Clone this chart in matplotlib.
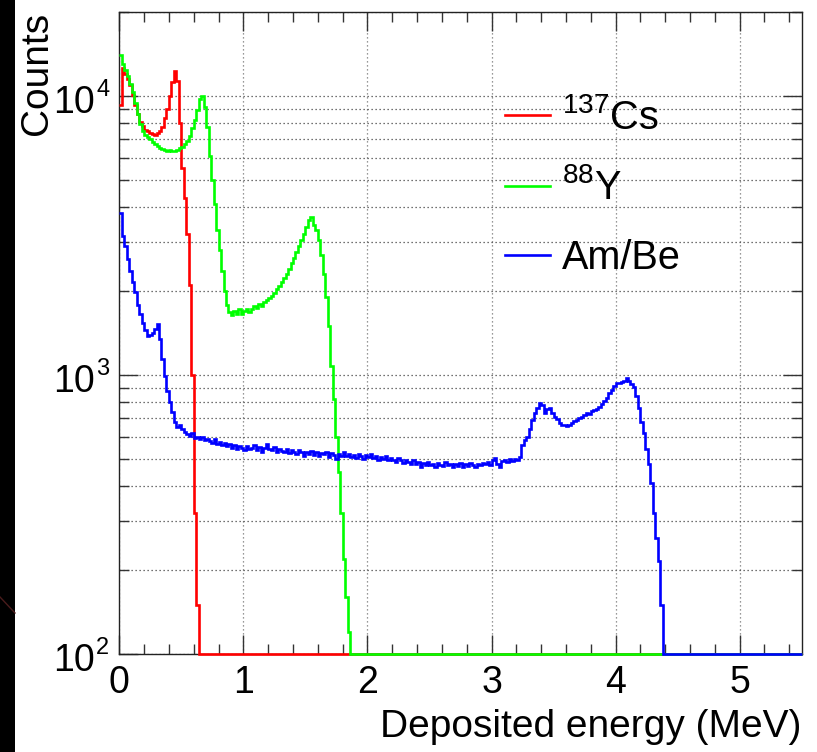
import numpy as np
import matplotlib
matplotlib.use("Agg")
import matplotlib.pyplot as plt
from matplotlib.lines import Line2D
from matplotlib.patches import Rectangle
from matplotlib.ticker import LogLocator, MultipleLocator, NullFormatter, FixedLocator

plt.rcParams['font.family'] = ['Liberation Sans', 'DejaVu Sans']
plt.rcParams['mathtext.fontset'] = 'custom'
plt.rcParams['mathtext.rm'] = 'Liberation Sans'
plt.rcParams['mathtext.it'] = 'Liberation Sans:italic'
plt.rcParams['mathtext.default'] = 'regular'

# ---------------- data (counts per 0.02 MeV bin, starting at 0 MeV) ----------------
bin_width = 0.02
e_max = 5.5
y_min, y_max = 100, 2.0e4

cs137 = [9300, 12600, 12000, 11500, 10900, 10100, 9300, 8600, 8050, 7800,
         7550, 7450, 7350, 7300, 7250, 7350, 7500, 7750, 8300, 9000,
         10000, 11200, 12300, 11300, 8000, 5500, 4300, 3200, 2100, 1000,
         320, 150]

y88 = [14000, 13000, 12400, 11800, 11000, 10300, 9400, 8600, 7950, 7500,
       7250, 7100, 7000, 6850, 6700, 6600, 6500, 6450, 6400, 6350,
       6380, 6330, 6360, 6400, 6480, 6550, 6700, 6900, 7200, 7650,
       8200, 8900, 9700, 10000, 9100, 7700, 6100, 5000, 4100, 3300,
       2800, 2350, 2000, 1780, 1680, 1640, 1700, 1650, 1720, 1660,
       1700, 1730, 1680, 1720, 1760, 1740, 1790, 1770, 1830, 1850,
       1880, 1920, 1970, 2030, 2080, 2160, 2220, 2300, 2400, 2510,
       2620, 2760, 2900, 3050, 3200, 3400, 3600, 3680, 3450, 3300,
       3050, 2700, 2300, 1900, 1500, 1080, 820, 600, 450, 320,
       220, 160, 120]

ambe = [3800, 3150, 2900, 2600, 2350, 2150, 1980, 1780, 1650, 1530,
        1450, 1380, 1390, 1420, 1460, 1520, 1350, 1140, 990, 880,
        800, 740, 680, 650, 660, 640, 625, 615, 605, 620,
        595, 600, 590, 598, 585, 592, 580, 570, 588, 565,
        575, 560, 572, 555, 566, 548, 560, 545, 556, 550,
        538, 556, 542, 548, 560, 540, 552, 530, 548, 565,
        545, 538, 552, 530, 545, 535, 528, 542, 525, 538,
        530, 520, 540, 528, 515, 532, 522, 535, 518, 528,
        512, 526, 520, 530, 510, 524, 518, 500, 522, 515,
        528, 512, 520, 508, 518, 505, 520, 512, 500, 516,
        508, 522, 505, 512, 498, 510, 502, 515, 495, 505,
        498, 490, 506, 495, 485, 498, 488, 480, 495, 482,
        490, 470, 486, 478, 488, 475, 482, 470, 485, 476,
        472, 488, 475, 480, 468, 482, 474, 486, 470, 480,
        472, 484, 476, 470, 482, 478, 486, 480, 490, 476,
        498, 505, 482, 470, 492, 498, 488, 500, 494, 502,
        498, 508, 560, 585, 600, 640, 690, 730, 765, 795,
        780, 730, 755, 760, 730, 710, 698, 675, 665, 660,
        655, 665, 675, 685, 690, 700, 705, 722, 730, 725,
        745, 748, 755, 770, 790, 810, 830, 860, 885, 915,
        935, 940, 945, 955, 975, 950, 930, 905, 840, 760,
        680, 620, 545, 480, 410, 320, 260, 215, 150]

series_labels = [r'$^{137}$Cs', r'$^{88}$Y', 'Am/Be']
series_colors = ['#ff0000', '#00ff00', '#0000ff']
x_label = 'Deposited energy (MeV)'
y_label = 'Counts'
x_ticks = [0, 1, 2, 3, 4, 5]
y_major = [100, 1000, 10000]

# ---------------- figure ----------------
W, H = 817, 752
fig = plt.figure(figsize=(W / 100, H / 100), dpi=100)
fig.patch.set_facecolor('white')
# dark strip on the left edge of the screenshot
fig.add_artist(Rectangle((0, 0), 15 / W, 1, transform=fig.transFigure,
                         facecolor='black', edgecolor='none', zorder=0))
fig.add_artist(Line2D([0, 15 / W], [1 - 597 / H, 1 - 613 / H], transform=fig.transFigure,
                      color='#4a1c1c', lw=1.0, zorder=1))

L, R, T, B = 119.3, 801.7, 11.7, 654.3
ax = fig.add_axes([L / W, 1 - B / H, (R - L) / W, (B - T) / H])

n_bins = int(round(e_max / bin_width))
edges = np.round(np.arange(n_bins + 1) * bin_width, 4)

for vals, col, lab in zip([cs137, y88, ambe], series_colors, series_labels):
    full = np.zeros(n_bins)
    full[:len(vals)] = vals
    ax.stairs(np.clip(full, y_min, None), edges, color=col, lw=1.9,
              baseline=None, clip_on=False, zorder=3, label=lab)

ax.set_yscale('log')
ax.set_xlim(0, e_max)
ax.set_ylim(y_min, y_max)

ax.xaxis.set_major_locator(FixedLocator(x_ticks))
ax.xaxis.set_minor_locator(MultipleLocator(0.2))
ax.yaxis.set_major_locator(FixedLocator(y_major))
ax.yaxis.set_minor_locator(LogLocator(base=10, subs=np.arange(2, 10)))
ax.yaxis.set_major_formatter(NullFormatter())
ax.yaxis.set_minor_formatter(NullFormatter())

ax.tick_params(which='both', direction='in', top=True, right=True, color='#333333', width=1.0)
ax.tick_params(which='major', length=13.5)
ax.tick_params(which='minor', length=7)
ax.tick_params(axis='x', which='major', labelsize=27, pad=8)

for s in ax.spines.values():
    s.set_color('#222222')
    s.set_linewidth(1.0)

grid_kw = dict(linestyle=(0, (1, 2.2)), linewidth=0.9)
ax.grid(True, axis='x', which='major', color='#777777', **grid_kw)
ax.grid(True, axis='y', which='both', color='#444444', **grid_kw)
ax.set_axisbelow(True)

# y tick labels as 10^n
ytr = ax.get_yaxis_transform()
for v in y_major:
    n = int(round(np.log10(v)))
    ax.annotate('10', xy=(-0.036, v), xycoords=ytr, xytext=(0, -12.3),
                textcoords='offset points', ha='right', va='baseline', fontsize=27)
    ax.annotate(str(n), xy=(-0.036, v), xycoords=ytr, xytext=(1, 0),
                textcoords='offset points', ha='left', va='baseline', fontsize=17)

ax.set_xlabel(x_label, fontsize=28, loc='right')
ax.xaxis.set_label_coords(1.0, -0.085)
ax.set_ylabel(y_label, fontsize=28, loc='top')
ax.yaxis.set_label_coords(-0.094, 1.0)

ax.legend(loc='upper left', bbox_to_anchor=(0.565, 0.866), frameon=False,
          fontsize=28.5, handlelength=1.14, handletextpad=0.3, labelspacing=0.8,
          borderaxespad=0, borderpad=0)

fig.savefig('out.png', dpi=100, facecolor='white')
